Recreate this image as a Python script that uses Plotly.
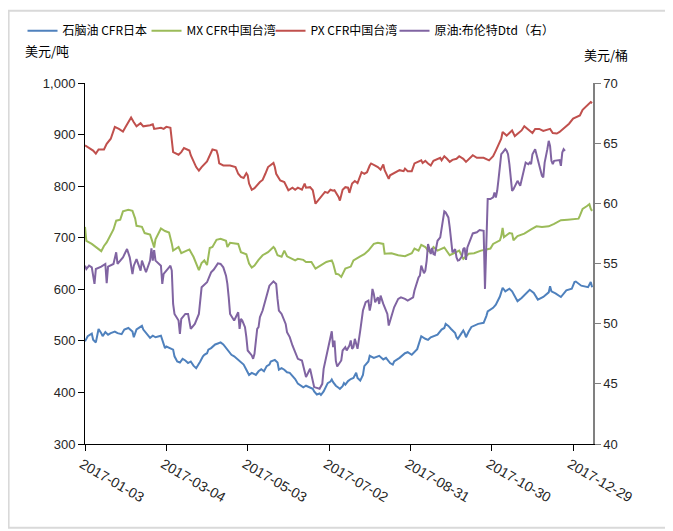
import pandas as pd
import plotly.graph_objects as go

# ---- data (days since 2017-01-03) ----
BASE_DATE = "2017-01-03"

naphtha_days = [0,2,5,6,8,10,12,13,15,17,
                19,22,24,27,29,32,35,36,38,42,
                43,45,48,50,52,56,58,59,60,62,
                65,66,68,70,72,74,76,78,80,82,
                83,85,87,88,90,91,93,96,98,100,
                102,104,106,108,110,113,115,117,119,121,
                123,126,128,130,132,134,136,137,140,142,
                143,145,147,149,151,153,155,157,159,161,
                163,166,168,169,171,173,174,176,178,179,
                181,182,183,185,187,188,190,191,192,194,
                196,198,200,201,203,205,206,209,210,213,
                217,220,222,225,227,228,232,236,238,241,
                245,247,248,251,253,255,260,263,265,266,
                268,270,273,274,275,277,279,280,281,283,
                285,290,294,296,297,301,303,306,307,308,
                310,313,315,319,322,326,328,331,334,338,
                342,343,344,347,351,355,359,361,362,366,
                371,373,374]
naphtha_vals = [499,509,514,502,497,523,515,509,517,512,
                515,518,515,513,522,525,518,507,522,529,
                522,515,506,510,507,510,496,486,489,486,
                483,470,460,458,465,462,457,460,452,447,
                451,460,470,473,476,483,486,493,495,497,
                493,486,480,473,470,463,458,454,444,434,
                438,434,441,445,441,451,454,460,463,458,
                444,447,444,439,438,432,426,417,413,410,
                413,410,407,402,396,398,395,402,412,418,
                421,425,420,413,409,407,412,418,415,422,
                426,428,438,428,423,434,451,460,471,467,
                471,464,467,457,454,460,467,476,478,473,
                484,499,509,504,502,507,512,522,525,533,
                529,523,515,507,504,512,520,515,507,518,
                527,533,535,548,557,564,570,586,593,603,
                596,601,596,577,583,594,599,593,580,585,
                594,606,596,592,585,598,601,614,615,607,
                604,614,604]

mx_days = [0,1,5,10,12,14,16,18,21,23,
           26,28,32,35,37,38,42,44,48,50,
           51,52,56,59,62,64,65,69,71,75,
           77,80,84,86,88,90,92,94,97,100,
           104,105,107,113,115,119,121,123,125,128,
           131,135,139,140,142,145,147,149,151,155,
           157,161,163,167,170,174,178,182,183,185,
           187,189,192,196,198,203,206,209,213,216,
           220,221,226,231,236,241,243,246,248,251,
           253,255,257,260,265,269,273,276,279,283,
           287,292,296,299,301,306,307,308,309,313,
           315,316,319,324,329,333,337,342,346,351,
           356,361,364,365,367,370,372,373,374]
mx_vals = [721,694,688,677,674,684,691,701,716,733,
           735,751,754,752,737,723,721,709,706,690,
           681,697,718,713,710,689,675,682,670,675,
           677,663,637,651,656,647,680,682,696,698,
           694,682,690,688,672,668,650,642,646,657,
           666,672,682,679,666,663,675,664,661,656,
           659,657,653,653,640,646,653,656,650,630,
           629,624,640,644,656,664,668,675,688,690,
           688,669,670,666,664,670,679,675,686,682,
           675,672,682,675,681,666,672,675,659,669,
           670,675,677,679,688,695,703,719,701,709,
           708,695,703,708,716,722,721,722,727,734,
           735,736,737,743,756,761,765,756,752]

px_days = [0,4,6,8,10,14,16,19,22,25,
           28,30,32,34,36,38,41,43,48,50,
           51,56,58,60,63,65,69,71,73,77,
           78,82,84,86,90,92,94,97,98,99,
           102,107,111,113,115,117,119,120,121,123,
           125,129,131,133,135,139,140,141,144,147,
           150,153,155,157,160,162,163,166,168,170,
           174,177,179,181,183,184,187,188,190,192,
           194,195,197,199,201,203,204,206,208,210,
           211,214,216,218,220,221,224,225,227,230,
           232,235,236,238,241,243,246,248,249,251,
           253,255,257,259,262,263,265,267,269,271,
           274,276,279,281,284,286,289,294,298,301,
           303,305,307,308,311,313,315,317,319,322,
           324,328,330,332,335,338,343,345,348,350,
           354,357,360,362,365,367,371,373,374]
px_vals = [879,873,869,863,871,871,882,892,915,911,
           906,915,924,933,924,916,922,916,918,920,
           911,913,911,915,913,866,861,866,874,869,
           860,837,830,837,848,860,871,869,860,844,
           840,840,837,824,818,816,825,821,805,793,
           796,808,812,824,837,845,837,824,811,808,
           792,797,793,797,793,805,797,798,792,766,
           779,789,787,793,791,792,779,772,793,798,
           797,787,805,810,806,821,827,824,827,840,
           844,840,837,832,842,831,814,821,824,827,
           831,829,834,829,829,844,847,850,845,849,
           844,840,849,851,855,850,858,853,847,851,
           853,858,853,847,855,860,855,855,850,858,
           869,879,892,905,898,903,908,897,902,908,
           916,908,903,911,911,907,911,903,902,905,
           915,921,931,934,937,948,959,963,961]

brent_days = [0,1,3,5,7,8,12,15,16,17,
              21,23,24,28,31,32,33,35,36,38,
              40,41,42,45,48,49,50,51,52,56,
              57,58,62,63,64,65,66,69,70,71,
              74,76,78,81,84,85,86,90,93,95,
              98,100,102,104,105,106,107,110,113,114,
              115,116,118,119,120,123,124,125,126,127,
              128,129,131,132,134,136,139,140,141,142,
              143,145,148,149,151,153,156,157,160,162,
              163,166,168,169,173,175,176,179,182,183,
              184,185,186,189,190,192,193,195,196,197,
              198,199,200,201,203,204,205,207,209,210,
              211,212,213,214,216,217,218,220,222,223,
              224,226,228,231,233,236,238,242,243,246,
              247,248,249,250,251,252,253,255,256,257,
              258,259,260,262,263,264,265,266,268,269,
              270,271,273,274,275,276,278,279,280,281,
              282,284,286,289,291,294,295,297,299,301,
              302,303,304,305,306,307,308,310,311,312,
              313,314,315,316,318,319,321,322,323,325,
              327,328,329,330,332,333,334,335,337,338,
              339,341,342,343,344,345,346,350,351,352,
              353,354]
brent_vals = [54.82,54.54,54.82,54.68,53.30,54.54,54.74,54.96,53.36,54.74,
              54.96,55.93,54.96,55.51,56.20,55.93,55.51,54.13,54.82,55.37,
              54.82,54.41,55.24,54.27,55.24,56.25,55.24,56.12,55.24,54.82,
              53.30,54.13,54.68,54.82,54.41,51.64,50.81,50.26,49.15,50.40,
              50.81,50.81,49.57,49.98,50.81,51.92,53.02,53.44,54.27,54.50,
              55.01,54.96,54.68,53.99,53.30,52.19,50.81,50.26,50.95,49.57,
              50.40,50.26,49.71,48.88,47.77,47.36,47.08,47.49,48.32,49.57,
              49.71,50.54,51.09,51.50,52.19,53.16,53.52,53.44,53.30,52.06,
              51.09,50.81,49.98,49.29,48.88,48.19,47.36,47.08,46.94,45.83,
              45.56,46.25,45.14,44.73,44.59,45.00,46.25,47.91,49.37,48.05,
              48.60,46.90,46.44,46.94,47.77,48.05,47.77,48.18,48.60,47.91,
              48.05,48.74,48.18,47.91,49.43,50.26,51.09,51.78,51.92,51.09,
              51.64,52.89,52.47,51.78,52.19,51.64,52.33,51.64,51.09,50.81,
              49.84,50.54,51.36,52.06,52.19,52.06,51.92,52.19,52.75,53.85,
              54.00,54.82,54.54,54.19,54.41,55.24,56.62,55.79,56.29,55.79,
              55.73,56.34,56.89,57.17,58.00,58.83,59.33,59.24,58.83,58.00,
              56.89,55.93,56.20,55.51,55.24,55.27,55.60,56.20,56.30,55.29,
              56.34,56.89,57.50,57.59,57.78,57.72,52.89,60.35,60.35,60.49,
              60.90,60.49,61.04,62.01,62.98,64.08,64.22,64.50,64.36,64.08,
              63.25,62.29,61.04,61.18,61.60,61.87,61.46,62.01,62.56,63.39,
              63.25,63.39,63.25,64.08,64.50,64.08,63.53,63.25,62.29,62.15,
              63.39,64.50,65.19,64.77,63.53,63.25,63.53,63.59,63.12,64.22,
              64.50,64.36]

series_names = ["石脑油 CFR日本", "MX CFR中国台湾", "PX CFR中国台湾", "原油:布伦特Dtd（右）"]
series_colors = ["#4F81BD", "#9BBB59", "#C0504D", "#8064A2"]

x_tick_dates = ["2017-01-03", "2017-03-04", "2017-05-03", "2017-07-02",
                "2017-08-31", "2017-10-30", "2017-12-29"]
left_ticks = [300, 400, 500, 600, 700, 800, 900, 1000]
left_tick_text = ["300", "400", "500", "600", "700", "800", "900", "1,000"]
right_ticks = [40, 45, 50, 55, 60, 65, 70]
x_range = ["2017-01-03", "2018-01-12 16:00"]

for a, b in [(naphtha_days, naphtha_vals), (mx_days, mx_vals),
             (px_days, px_vals), (brent_days, brent_vals)]:
    assert len(a) == len(b), (len(a), len(b))


def to_dates(days):
    return pd.Timestamp(BASE_DATE) + pd.to_timedelta(days, unit="D")


TICK_FONT = dict(family="Liberation Sans, Arial, sans-serif", size=13, color="#262626")
XTICK_FONT = dict(family="Liberation Sans, Arial, sans-serif", size=14, color="#262626")
CJK_FONT = "Noto Sans CJK SC"

fig = go.Figure()
data = [(naphtha_days, naphtha_vals, "y"), (mx_days, mx_vals, "y"),
        (px_days, px_vals, "y"), (brent_days, brent_vals, "y2")]
legend_widths = [79, 79, 79, 140]
for (d, v, ax), name, col, lw in zip(data, series_names, series_colors, legend_widths):
    fig.add_trace(go.Scatter(
        x=to_dates(d), y=v, name=name, mode="lines", yaxis=ax,
        line=dict(color=col, width=2), legendwidth=lw,
        hoverinfo="x+y+name"))

# the page body adds an 8px offset, so margins are reduced by 8px on top/left
fig.update_layout(
    width=673, height=531,
    margin=dict(l=77, r=88, t=75, b=95, autoexpand=False),
    paper_bgcolor="white", plot_bgcolor="white",
    showlegend=True,
    legend=dict(orientation="h", x=-0.123, xanchor="left", y=1.145, yanchor="middle",
                font=dict(family=CJK_FONT, size=12, color="#000000"),
                entrywidthmode="pixels", itemwidth=30,
                bgcolor="rgba(0,0,0,0)", borderwidth=0),
    xaxis=dict(type="date", range=x_range, tickvals=x_tick_dates,
               ticktext=x_tick_dates, tickangle=30, automargin=False,
               ticklabelshift=-3,
               showline=True, linecolor="#000000", linewidth=1,
               ticks="outside", ticklen=6, tickcolor="#000000",
               showgrid=False, zeroline=False, tickfont=XTICK_FONT),
    yaxis=dict(range=[300, 1000], tickvals=left_ticks, ticktext=left_tick_text,
               automargin=False,
               showline=True, linecolor="#000000", linewidth=1,
               ticks="outside", ticklen=6, tickcolor="#000000",
               showgrid=False, zeroline=False, tickfont=TICK_FONT),
    yaxis2=dict(range=[40, 70], tickvals=right_ticks, overlaying="y", side="right",
                automargin=False,
                showline=True, linecolor="#808080", linewidth=1.5,
                ticks="outside", ticklen=6, tickcolor="#808080",
                showgrid=False, zeroline=False, tickfont=TICK_FONT),
    annotations=[
        dict(text="美元/吨", xref="paper", yref="paper", x=-0.0756, y=1.089,
             xanchor="center", yanchor="middle", showarrow=False,
             font=dict(family=CJK_FONT, size=13, color="#000000")),
        dict(text="美元/桶", xref="paper", yref="paper", x=1.025, y=1.078,
             xanchor="center", yanchor="middle", showarrow=False,
             font=dict(family=CJK_FONT, size=13, color="#000000")),
    ],
    shapes=[dict(type="rect", xref="paper", yref="paper", x0=-0.1504, x1=1.19,
                 y0=-0.2319, y1=1.2003, line=dict(color="#D9D9D9", width=2),
                 fillcolor="rgba(0,0,0,0)", layer="below")],
)

fig.write_html("out.html")
